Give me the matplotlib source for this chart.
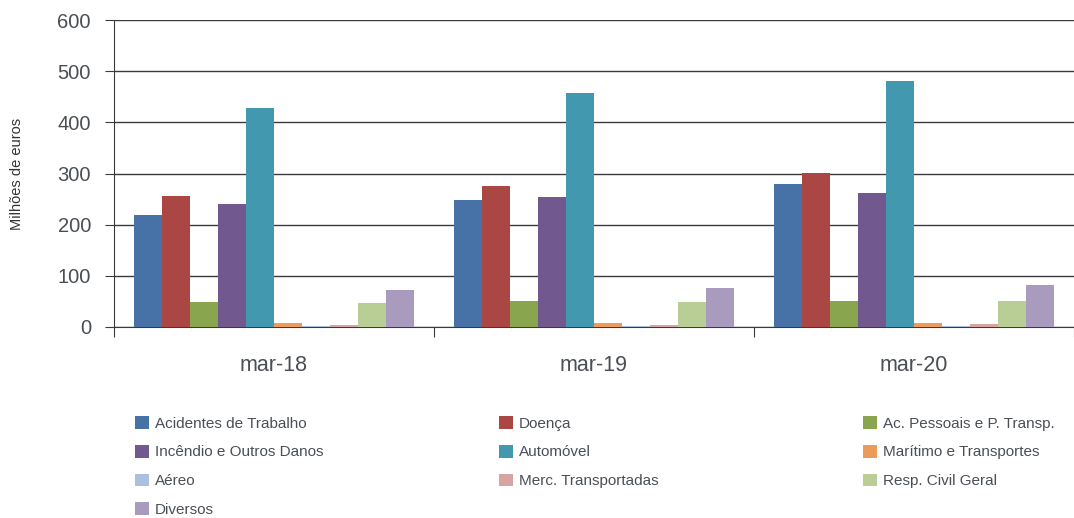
import numpy as np
import matplotlib.pyplot as plt

plt.rcParams['font.family'] = ['Liberation Sans', 'DejaVu Sans']

groups = ['mar-18', 'mar-19', 'mar-20']
series = ['Acidentes de Trabalho', 'Doença', 'Ac. Pessoais e P. Transp.',
          'Incêndio e Outros Danos', 'Automóvel', 'Marítimo e Transportes',
          'Aéreo', 'Merc. Transportadas', 'Resp. Civil Geral', 'Diversos']
acidentes = [219, 249, 279]
doenca = [256, 275, 301]
ac_pessoais = [48, 50, 51]
incendio = [240, 254, 262]
automovel = [428, 457, 481]
maritimo = [7, 8, 8]
aereo = [2, 2, 2]
merc = [4, 4, 5]
resp_civil = [47, 48, 51]
diversos = [72, 77, 81]
values = [acidentes, doenca, ac_pessoais, incendio, automovel,
          maritimo, aereo, merc, resp_civil, diversos]
colors = ['#4672A8', '#AA4644', '#89A54E', '#71588F', '#4298AF',
          '#EE9A5A', '#A9C0E0', '#D6A4A2', '#B8CE95', '#A99BBD']

fig = plt.figure(figsize=(10.74, 5.18), dpi=100)
ax = fig.add_axes([0.106, 0.369, 0.894, 0.592])

x = np.arange(len(groups))
w = 0.0875
bars = []
for j, (vals, c) in enumerate(zip(values, colors)):
    b = ax.bar(x + (j - 4.5) * w, vals, w, color=c, edgecolor='none', zorder=3)
    bars.append(b)

ax.set_xlim(-0.5, 2.5)
ax.set_ylim(0, 600)
ax.set_yticks(range(0, 601, 100))
ax.yaxis.grid(True, color='#3a3a3a', lw=1, zorder=0)
for s in ['top', 'right']:
    ax.spines[s].set_visible(False)
ax.spines['left'].set_color('#3a3a3a')
ax.spines['bottom'].set_color('#3a3a3a')

ax.set_xticks([-0.5, 0.5, 1.5, 2.5])
ax.set_xticklabels([])
ax.set_xticks(x, minor=True)
ax.set_xticklabels(groups, minor=True)
ax.tick_params(axis='x', which='major', length=7, color='#3a3a3a')
ax.tick_params(axis='x', which='minor', length=0, pad=20, labelsize=15.5, labelcolor='#4a4f55')
ax.tick_params(axis='y', length=6.5, pad=10, labelsize=14.5, labelcolor='#4a4f55', color='#3a3a3a')

fig.text(17 / 1074, 1 - 174 / 518, 'Milhões de euros', rotation=90,
         ha='center', va='center', fontsize=10.5, color='#333333')

# legend laid out row by row in three columns
cols = [[0, 3, 6, 9], [1, 4, 7], [2, 5, 8]]
col_x = [135, 499, 863]
for ci, idx in enumerate(cols):
    leg = fig.legend([bars[i] for i in idx], [series[i] for i in idx],
                     loc='upper left', bbox_to_anchor=(col_x[ci] / 1074, 1 - 416 / 518),
                     frameon=False, fontsize=11, handlelength=0.9, handleheight=0.9,
                     handletextpad=0.4, labelspacing=0.93, borderpad=0, borderaxespad=0)
    for t in leg.get_texts():
        t.set_color('#4a4f55')

fig.savefig('out.png', dpi=100)
